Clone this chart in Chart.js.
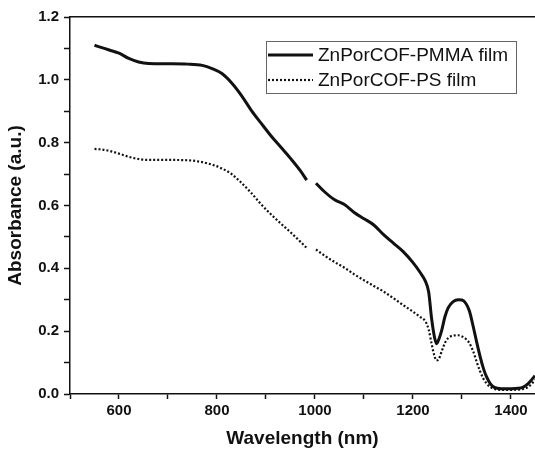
<!DOCTYPE html>
<html>
<head>
<meta charset="utf-8">
<script src="https://cdn.jsdelivr.net/npm/chart.js@4/dist/chart.umd.min.js"></script>
<style>
  html, body { margin: 0; padding: 0; background: #fff; }
  #wrap { width: 535px; height: 454px; position: relative; }
</style>
</head>
<body>
<div id="wrap"><canvas id="chart"></canvas></div>
<script>
// ---- data ----
const wavelength = [550, 560, 580, 600, 620, 640, 660, 700, 740, 770, 790, 810, 830, 850, 870, 890, 910, 930, 950, 970, 983, 992,
    1002, 1020, 1040, 1060, 1080, 1100, 1120, 1140, 1160, 1180, 1200, 1215, 1225, 1232, 1238, 1244, 1248, 1253, 1259, 1265,
    1272, 1282, 1292, 1300, 1308, 1315, 1323, 1330, 1337, 1344, 1350, 1358, 1366, 1380, 1400, 1415, 1425, 1435, 1442, 1449];

const pmmaFilm = [1.110, 1.105, 1.095, 1.085, 1.068, 1.057, 1.052, 1.051, 1.050, 1.046, 1.036, 1.020, 0.990, 0.950, 0.903, 0.862,
    0.822, 0.786, 0.750, 0.711, 0.681, null,
    0.671, 0.643, 0.618, 0.603, 0.578, 0.558, 0.538, 0.507, 0.480, 0.453, 0.418, 0.386, 0.360, 0.325, 0.240, 0.180, 0.160, 0.175,
    0.205, 0.245, 0.275, 0.294, 0.300, 0.299, 0.288, 0.265, 0.214, 0.165, 0.119, 0.080, 0.055, 0.032, 0.021, 0.017, 0.017, 0.018,
    0.022, 0.033, 0.045, 0.058];

const psFilm = [0.780, 0.779, 0.774, 0.765, 0.755, 0.748, 0.745, 0.745, 0.744, 0.738, 0.730, 0.718, 0.700, 0.672, 0.640, 0.604,
    0.572, 0.543, 0.515, 0.485, 0.465, null,
    0.460, 0.440, 0.420, 0.402, 0.381, 0.362, 0.344, 0.326, 0.305, 0.283, 0.262, 0.245, 0.232, 0.205, 0.160, 0.120, 0.107, 0.112,
    0.138, 0.162, 0.178, 0.186, 0.187, 0.183, 0.175, 0.162, 0.135, 0.102, 0.072, 0.048, 0.034, 0.022, 0.016, 0.013, 0.013, 0.014,
    0.016, 0.022, 0.032, 0.045];

const seriesNames = ['ZnPorCOF-PMMA film', 'ZnPorCOF-PS film'];
const xLabels = [600, 800, 1000, 1200, 1400];
const yLabels = [0, 0.2, 0.4, 0.6, 0.8, 1.0, 1.2];

const FONT = "'Liberation Sans', Arial, sans-serif";
const INK = '#111';

const toPoints = vals => wavelength.map((w, i) => ({ x: w, y: vals[i] }));

// Legend drawn inside the plot with a framed box, like the original figure
const boxLegend = {
    id: 'boxLegend',
    afterDatasetsDraw(chart) {
        const { ctx, chartArea } = chart;
        const x0 = chartArea.left + 196, y0 = chartArea.top + 24;
        ctx.save();
        ctx.strokeStyle = '#666';
        ctx.lineWidth = 1;
        ctx.strokeRect(x0 + 0.5, y0 + 0.5, 250, 52);
        ctx.font = '19px ' + FONT;
        ctx.fillStyle = INK;
        ctx.textBaseline = 'middle';
        chart.data.datasets.forEach((ds, i) => {
            const cy = y0 + 14 + i * 25;
            ctx.beginPath();
            ctx.strokeStyle = ds.borderColor;
            ctx.lineWidth = ds.borderWidth;
            ctx.setLineDash(ds.borderDash || []);
            ctx.moveTo(x0 + 2, cy);
            ctx.lineTo(x0 + 47, cy);
            ctx.stroke();
            ctx.setLineDash([]);
            ctx.fillText(ds.label, x0 + 52, cy + 1);
        });
        ctx.restore();
    }
};

new Chart(document.getElementById('chart'), {
    type: 'line',
    data: {
        datasets: [
            { label: seriesNames[0], data: toPoints(pmmaFilm), borderColor: INK, borderWidth: 3, pointRadius: 0,
              cubicInterpolationMode: 'monotone', spanGaps: false },
            { label: seriesNames[1], data: toPoints(psFilm), borderColor: INK, borderWidth: 2.2, borderDash: [2, 2],
              pointRadius: 0, cubicInterpolationMode: 'monotone', spanGaps: false }
        ]
    },
    options: {
        responsive: true,
        maintainAspectRatio: false,
        animation: false,
        layout: { padding: { top: 17, right: 0, left: 0, bottom: 0 } },
        plugins: { legend: { display: false }, tooltip: { enabled: false } },
        scales: {
            x: {
                type: 'linear', min: 500, max: 1449,
                afterFit: s => { s.height = 60; },
                border: { color: INK, width: 1.5 },
                grid: { drawOnChartArea: false, tickLength: 5, tickColor: INK, tickWidth: 1.5 },
                ticks: {
                    stepSize: 100, includeBounds: false, autoSkip: false, maxRotation: 0, padding: 3,
                    color: INK, font: { family: FONT, size: 15, weight: 'bold' },
                    callback: v => xLabels.includes(v) ? String(v) : ''
                },
                title: { display: true, text: 'Wavelength (nm)', color: INK, padding: { top: 4 },
                         font: { family: FONT, size: 19, weight: 'bold' } }
            },
            xTop: {
                type: 'linear', position: 'top', min: 500, max: 1449,
                border: { color: INK, width: 1.5 },
                grid: { display: false, drawTicks: false },
                ticks: { display: false }
            },
            y: {
                min: 0, max: 1.2,
                afterFit: s => { s.width = 70; },
                border: { color: INK, width: 1.5 },
                grid: { drawOnChartArea: false, tickLength: 6, tickColor: INK, tickWidth: 1.5 },
                ticks: {
                    stepSize: 0.1, autoSkip: false, padding: 5,
                    color: INK, font: { family: FONT, size: 15, weight: 'bold' },
                    callback: v => yLabels.some(t => Math.abs(t - v) < 1e-6) ? v.toFixed(1) : ''
                },
                title: { display: true, text: 'Absorbance (a.u.)', color: INK, padding: { bottom: 4 },
                         font: { family: FONT, size: 19, weight: 'bold' } }
            }
        }
    },
    plugins: [boxLegend]
});
</script>
</body>
</html>
